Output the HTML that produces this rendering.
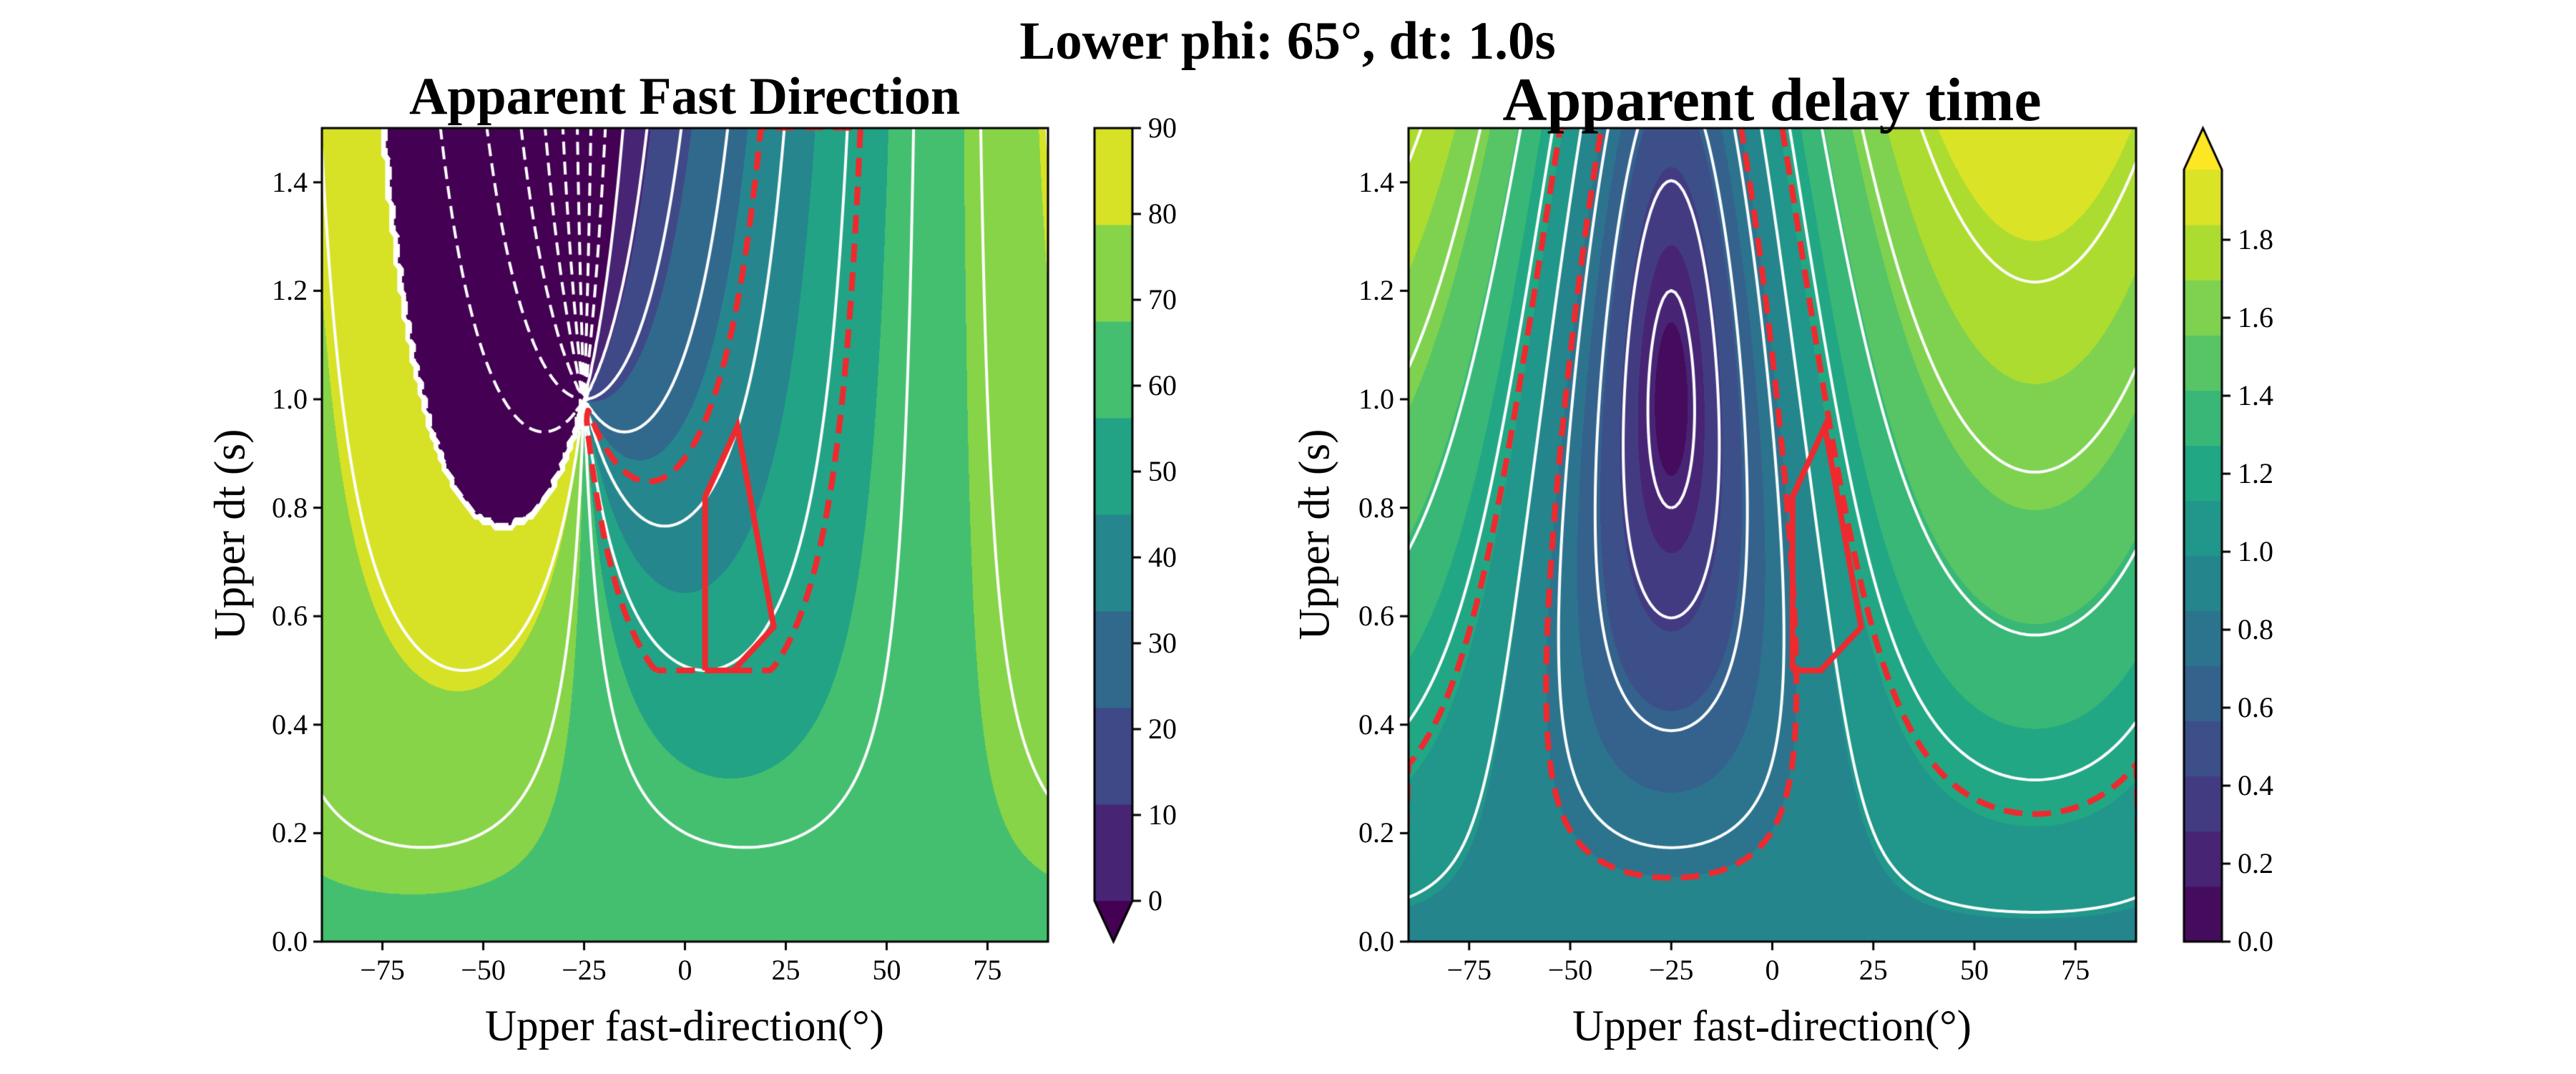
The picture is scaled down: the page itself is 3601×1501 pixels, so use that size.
<!DOCTYPE html>
<html><head><meta charset="utf-8">
<style>
html,body{margin:0;padding:0;background:#fff;}
#root{position:relative;width:3601px;height:1501px;overflow:hidden;background:#fff;font-family:"Liberation Serif","DejaVu Serif",serif;color:#000;}
#cv{position:absolute;left:0;top:0;}
.t{position:absolute;white-space:nowrap;line-height:1;}
</style></head>
<body>
<div id="root">
<canvas id="cv" width="3601" height="1501"></canvas>
<div class="t" style="left:1800px;top:20px;font-size:75px;font-weight:bold;transform:translateX(-50%);">Lower phi: 65°, dt: 1.0s</div>
<div class="t" style="left:957px;top:98px;font-size:74px;font-weight:bold;transform:translateX(-50%);">Apparent Fast Direction</div>
<div class="t" style="left:2477px;top:96px;font-size:86px;font-weight:bold;transform:translateX(-50%);">Apparent delay time</div>
<div class="t" style="left:957px;top:1404px;font-size:61px;transform:translateX(-50%);">Upper fast-direction(°)</div>
<div class="t" style="left:2477px;top:1404px;font-size:61px;transform:translateX(-50%);">Upper fast-direction(°)</div>
<div class="t" style="left:322px;top:747px;font-size:61px;transform:translate(-50%,-50%) rotate(-90deg);">Upper dt (s)</div>
<div class="t" style="left:1838px;top:747px;font-size:61px;transform:translate(-50%,-50%) rotate(-90deg);">Upper dt (s)</div>
</div>
<script>
// ---- data ----
const lowerPhi = 65;
const lowerDt = 1.0;
const xTicks = [-75, -50, -25, 0, 25, 50, 75];
const yTicks = [0.0, 0.2, 0.4, 0.6, 0.8, 1.0, 1.2, 1.4];
const phiLevels = [0, 11.25, 22.5, 33.75, 45, 56.25, 67.5, 78.75, 90];
const phiCbTicks = [0, 10, 20, 30, 40, 50, 60, 70, 80, 90];
const dtLevels = [0, 0.1414, 0.2829, 0.4243, 0.5657, 0.7071, 0.8486, 0.99, 1.1314, 1.2729, 1.4143, 1.5557, 1.6971, 1.8386, 1.98];
const dtCbTicks = [0.0, 0.2, 0.4, 0.6, 0.8, 1.0, 1.2, 1.4, 1.6, 1.8];
const phiLineLevels = [-80, -70, -60, -50, -40, -30, -20, -10, 0, 10, 20, 30, 40, 50, 60, 70, 80];
const dtLineLevels = [0.2, 0.4, 0.6, 0.8, 1.0, 1.2, 1.4, 1.6, 1.8];
const obsPhiRange = [36, 52];
const obsDtMin = 0.5;
const obsDelayRange = [0.85, 1.15];
const polyPhi = [5, 12, 22, 13, 5, 5];
const polyDt = [0.5, 0.5, 0.58, 0.95, 0.82, 0.5];

// ---- layout ----
const AX = {
  left: {x0: 450, x1: 1465, y0: 179, y1: 1316},
  right: {x0: 1969, x1: 2986, y0: 179, y1: 1316}
};
const XMIN = -90, XMAX = 90, YMIN = 0, YMAX = 1.5;
const CB1 = {x0: 1530, x1: 1583, top: 179, bot: 1259, tip: 1316};
const CB2 = {x0: 3053, x1: 3106, top: 237, bot: 1316, tip: 179};

const VIR = ["#440154","#482475","#414487","#355f8d","#2a788e","#21918c","#22a884","#44bf70","#7ad151","#bddf26","#fde725"];
function hex(h){return [parseInt(h.substr(1,2),16),parseInt(h.substr(3,2),16),parseInt(h.substr(5,2),16)];}
const VIRRGB = VIR.map(hex);
function viridis(t){
  t = Math.max(0, Math.min(1, t));
  const p = t*10, i = Math.min(9, Math.floor(p)), f = p - i;
  const a = VIRRGB[i], b = VIRRGB[i+1];
  return [0,1,2].map(k => Math.round(a[k] + (b[k]-a[k])*f));
}
const phiColors = []; for (let i = 0; i < phiLevels.length-1; i++) phiColors.push(viridis(0.1 + i*0.12));
const phiUnder = viridis(0);
const dtColors = []; for (let i = 0; i < dtLevels.length-1; i++) dtColors.push(viridis(0.03 + i*0.0705));
const dtOver = viridis(1);
function rgb(c){return "rgb("+c[0]+","+c[1]+","+c[2]+")";}

// ---- model ----
function model(u, d){
  const a = 2*u*Math.PI/180, b = 2*lowerPhi*Math.PI/180;
  const x = d*Math.cos(a) + lowerDt*Math.cos(b);
  const y = d*Math.sin(a) + lowerDt*Math.sin(b);
  const phi = Math.atan2(y, x)*90/Math.PI;
  const mag = Math.hypot(x, y);
  return [phi, 2.6*Math.tanh(mag/2.6)];
}
function bandIndex(levels, v){
  for (let i = 0; i < levels.length-1; i++) if (v < levels[i+1]) return i;
  return levels.length-1;
}

const cv = document.getElementById('cv');
const ctx = cv.getContext('2d');

function xPix(ax, u){return ax.x0 + (u - XMIN)/(XMAX - XMIN)*(ax.x1 - ax.x0);}
function yPix(ax, d){return ax.y1 - (d - YMIN)/(YMAX - YMIN)*(ax.y1 - ax.y0);}

// ---- fills ----
function fill(ax, which){
  const w = ax.x1 - ax.x0, h = ax.y1 - ax.y0;
  const img = ctx.createImageData(w, h);
  for (let py = 0; py < h; py++){
    const d = YMAX - (py + 0.5)/h*(YMAX - YMIN);
    for (let px = 0; px < w; px++){
      const u = XMIN + (px + 0.5)/w*(XMAX - XMIN);
      const m = model(u, d);
      let c;
      if (which === 0){
        const v = m[0];
        c = v < phiLevels[0] ? phiUnder : phiColors[Math.min(phiColors.length-1, bandIndex(phiLevels, v))];
      } else {
        const v = m[1];
        c = v >= dtLevels[dtLevels.length-1] ? dtOver : dtColors[bandIndex(dtLevels, v)];
      }
      const o = (py*w + px)*4;
      img.data[o] = c[0]; img.data[o+1] = c[1]; img.data[o+2] = c[2]; img.data[o+3] = 255;
    }
  }
  ctx.putImageData(img, ax.x0, ax.y0);
}
fill(AX.left, 0);
fill(AX.right, 1);

// ---- grids ----
const NX = 181, NY = 151;
function gridOf(fn, pad, padVal){
  const g = [];
  const o = pad ? 1 : 0;
  for (let j = -o; j < NY + o; j++){
    const row = [];
    for (let i = -o; i < NX + o; i++){
      if (i < 0 || j < 0 || i >= NX || j >= NY) { row.push(padVal); continue; }
      const u = XMIN + i*(XMAX - XMIN)/(NX-1);
      const d = YMIN + j*(YMAX - YMIN)/(NY-1);
      row.push(fn(u, d));
    }
    g.push(row);
  }
  return g;
}

function contourLines(g, L){
  const ny = g.length, nx = g[0].length;
  const pts = {}, segs = [], adj = {};
  function ep(e, i, j){
    let key, a, b, t, p;
    if (e === 0){ key='h'+i+'_'+j; a=g[j][i]; b=g[j][i+1]; t=(L-a)/(b-a); p=[i+t, j]; }
    else if (e === 1){ key='v'+(i+1)+'_'+j; a=g[j][i+1]; b=g[j+1][i+1]; t=(L-a)/(b-a); p=[i+1, j+t]; }
    else if (e === 2){ key='h'+i+'_'+(j+1); a=g[j+1][i]; b=g[j+1][i+1]; t=(L-a)/(b-a); p=[i+t, j+1]; }
    else { key='v'+i+'_'+j; a=g[j][i]; b=g[j+1][i]; t=(L-a)/(b-a); p=[i, j+t]; }
    pts[key] = p; return key;
  }
  function add(k1, k2){
    const s = segs.length; segs.push([k1, k2]);
    (adj[k1] = adj[k1] || []).push(s);
    (adj[k2] = adj[k2] || []).push(s);
  }
  for (let j = 0; j < ny-1; j++){
    for (let i = 0; i < nx-1; i++){
      const v0=g[j][i], v1=g[j][i+1], v2=g[j+1][i+1], v3=g[j+1][i];
      const b0=v0>=L, b1=v1>=L, b2=v2>=L, b3=v3>=L;
      const es = [];
      if (b0 !== b1) es.push(0);
      if (b1 !== b2) es.push(1);
      if (b3 !== b2) es.push(2);
      if (b0 !== b3) es.push(3);
      if (es.length === 2) add(ep(es[0], i, j), ep(es[1], i, j));
      else if (es.length === 4){
        const c = (v0+v1+v2+v3)/4 >= L;
        if (c === b0){ add(ep(0,i,j), ep(1,i,j)); add(ep(2,i,j), ep(3,i,j)); }
        else { add(ep(3,i,j), ep(0,i,j)); add(ep(1,i,j), ep(2,i,j)); }
      }
    }
  }
  const used = new Array(segs.length).fill(false);
  const lines = [];
  function walk(start){
    const line = [pts[start]]; let cur = start;
    while (true){
      const list = adj[cur] || []; let s = -1;
      for (const k of list) if (!used[k]) { s = k; break; }
      if (s < 0) break;
      used[s] = true;
      const nxt = segs[s][0] === cur ? segs[s][1] : segs[s][0];
      line.push(pts[nxt]); cur = nxt;
    }
    if (line.length > 1) lines.push(line);
  }
  for (const k in adj) if (adj[k].length === 1) walk(k);
  for (let s = 0; s < segs.length; s++) if (!used[s]) walk(segs[s][0]);
  return lines;
}

function drawLines(ax, lines, off, style, width, dash){
  const sx = (ax.x1 - ax.x0)/(NX-1), sy = (ax.y1 - ax.y0)/(NY-1);
  ctx.save();
  ctx.beginPath(); ctx.rect(ax.x0, ax.y0, ax.x1-ax.x0, ax.y1-ax.y0); ctx.clip();
  ctx.strokeStyle = style; ctx.lineWidth = width; ctx.setLineDash(dash); ctx.lineJoin = 'round';
  for (const ln of lines){
    ctx.beginPath();
    ln.forEach((p, k) => {
      const X = ax.x0 + (p[0]-off)*sx, Y = ax.y1 - (p[1]-off)*sy;
      if (k === 0) ctx.moveTo(X, Y); else ctx.lineTo(X, Y);
    });
    ctx.stroke();
  }
  ctx.restore();
}

const gPhi = gridOf((u, d) => model(u, d)[0], false, 0);
const gDt = gridOf((u, d) => model(u, d)[1], false, 0);
for (const L of phiLineLevels) drawLines(AX.left, contourLines(gPhi, L), 0, '#fff', 4, L < 0 ? [18, 10] : []);
for (const L of dtLineLevels) drawLines(AX.right, contourLines(gDt, L), 0, '#fff', 4, []);

const gMaskL = gridOf((u, d) => { const p = model(u, d)[0]; return Math.min(p - obsPhiRange[0], obsPhiRange[1] - p, (d - obsDtMin)*100); }, true, -50);
const gMaskR = gridOf((u, d) => { const v = model(u, d)[1]; return Math.min(v - obsDelayRange[0], obsDelayRange[1] - v); }, true, -0.1);
drawLines(AX.left, contourLines(gMaskL, 0), 1, '#ee2a2f', 8, [26, 14]);
drawLines(AX.right, contourLines(gMaskR, 0), 1, '#ee2a2f', 8, [26, 14]);

// red polygon
for (const ax of [AX.left, AX.right]){
  ctx.save();
  ctx.strokeStyle = '#ee2a2f'; ctx.lineWidth = 8; ctx.lineJoin = 'miter';
  ctx.beginPath();
  polyPhi.forEach((u, k) => { const X = xPix(ax, u), Y = yPix(ax, polyDt[k]); if (k === 0) ctx.moveTo(X, Y); else ctx.lineTo(X, Y); });
  ctx.stroke();
  ctx.restore();
}

// axes frames & ticks
const root = document.getElementById('root');
function label(text, x, y, align, name){
  const el = document.createElement('div');
  el.className = 't';
  el.textContent = text;
  el.style.fontSize = '40px';
  el.style.left = x + 'px';
  el.style.top = y + 'px';
  el.style.transform = align === 'center' ? 'translate(-50%,0)' : (align === 'right' ? 'translate(-100%,-50%)' : 'translate(0,-50%)');
  
  
  root.appendChild(el);
}
function fmtX(v){return v < 0 ? '\u2212' + Math.abs(v) : String(v);}
for (const key of ['left', 'right']){
  const ax = AX[key];
  ctx.strokeStyle = '#000'; ctx.lineWidth = 3; ctx.setLineDash([]);
  ctx.strokeRect(ax.x0, ax.y0, ax.x1-ax.x0, ax.y1-ax.y0);
  for (const v of xTicks){
    const X = xPix(ax, v);
    ctx.beginPath(); ctx.moveTo(X, ax.y1); ctx.lineTo(X, ax.y1 + 12); ctx.stroke();
    label(fmtX(v), X, ax.y1 + 20, 'center', key + '-x-tick-label');
  }
  for (const v of yTicks){
    const Y = yPix(ax, v);
    ctx.beginPath(); ctx.moveTo(ax.x0, Y); ctx.lineTo(ax.x0 - 12, Y); ctx.stroke();
    label(v.toFixed(1), ax.x0 - 20, Y, 'right', key + '-y-tick-label');
  }
}

// colorbars
function drawCb(cb, levels, colors, extraColor, extend, ticks, fmt, name){
  const n = levels.length - 1;
  const lo = levels[0], hi = levels[n];
  const yOf = v => cb.bot - (v - lo)/(hi - lo)*(cb.bot - cb.top);
  for (let i = 0; i < n; i++){
    ctx.fillStyle = rgb(colors[i]);
    const ya = yOf(levels[i+1]), yb = yOf(levels[i]);
    ctx.fillRect(cb.x0, ya, cb.x1 - cb.x0, yb - ya + 0.5);
  }
  ctx.fillStyle = rgb(extraColor);
  ctx.beginPath();
  const mid = (cb.x0 + cb.x1)/2;
  const base = extend === 'min' ? cb.bot : cb.top;
  ctx.moveTo(cb.x0, base); ctx.lineTo(mid, cb.tip); ctx.lineTo(cb.x1, base); ctx.closePath(); ctx.fill();
  ctx.strokeStyle = '#000'; ctx.lineWidth = 3;
  ctx.beginPath();
  if (extend === 'min'){
    ctx.moveTo(cb.x0, cb.top); ctx.lineTo(cb.x1, cb.top); ctx.lineTo(cb.x1, cb.bot); ctx.lineTo(mid, cb.tip); ctx.lineTo(cb.x0, cb.bot); ctx.closePath();
  } else {
    ctx.moveTo(cb.x0, cb.bot); ctx.lineTo(cb.x1, cb.bot); ctx.lineTo(cb.x1, cb.top); ctx.lineTo(mid, cb.tip); ctx.lineTo(cb.x0, cb.top); ctx.closePath();
  }
  ctx.stroke();
  for (const v of ticks){
    const Y = yOf(v);
    ctx.beginPath(); ctx.moveTo(cb.x1, Y); ctx.lineTo(cb.x1 + 12, Y); ctx.stroke();
    label(fmt(v), cb.x1 + 22, Y, 'left', name);
  }
}
drawCb(CB1, phiLevels, phiColors, phiUnder, 'min', phiCbTicks, v => String(v), 'direction-colorbar-tick-label');
drawCb(CB2, dtLevels, dtColors, dtOver, 'max', dtCbTicks, v => v.toFixed(1), 'delay-colorbar-tick-label');
</script>
</body></html>
